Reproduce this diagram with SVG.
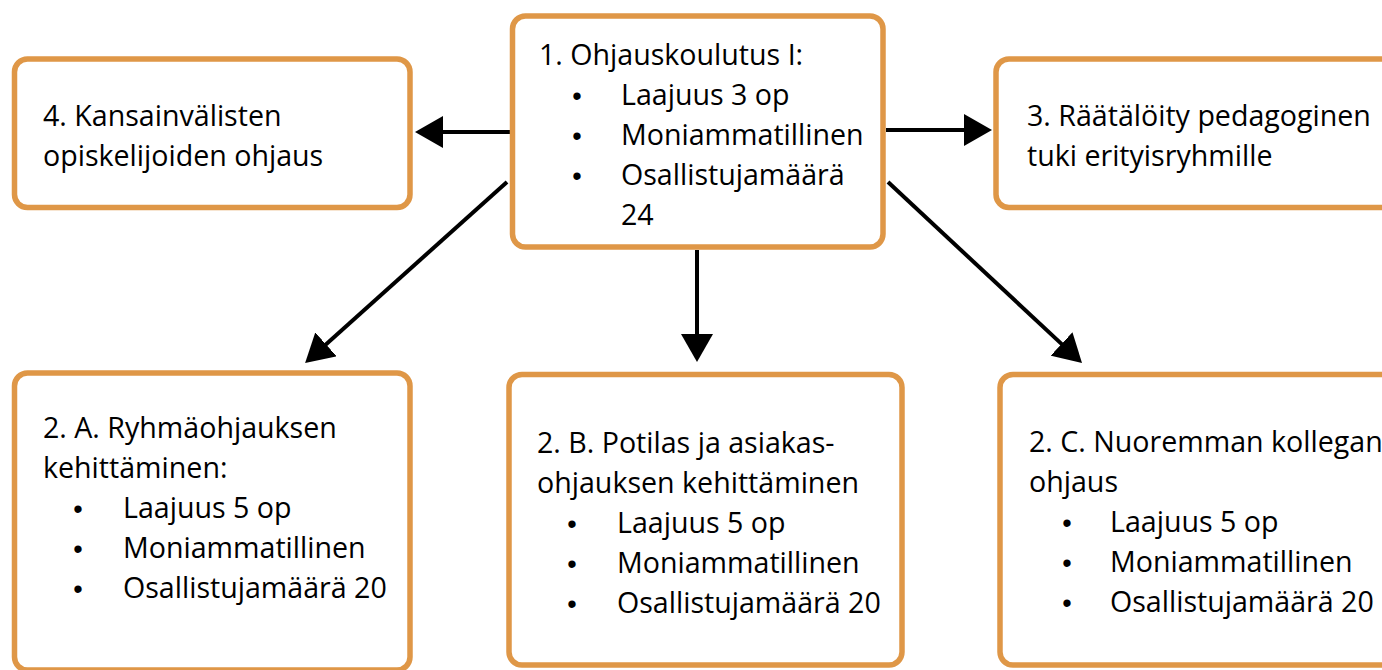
<svg xmlns="http://www.w3.org/2000/svg" width="1382" height="670" viewBox="0 0 1382 670">
  <style>
    .box { fill: #ffffff; stroke: #DF9747; stroke-width: 5.5; }
    .t { font-family: "Open Sans", "Noto Sans", sans-serif; font-size: 28.6px; fill: #000000; }
    .b { font-family: "Liberation Sans", Arial, sans-serif; font-size: 27px; fill: #000000; text-anchor: middle; }
    .link { stroke: #000000; stroke-width: 4; fill: none; marker-end: url(#head); }
  </style>
  <defs>
    <marker id="head" viewBox="0 0 28 32" refX="8" refY="16" markerWidth="28" markerHeight="32" markerUnits="userSpaceOnUse" orient="auto">
      <path d="M0,0 L28,16 L0,32 Z" fill="#000000"/>
    </marker>
  </defs>
  <rect width="1382" height="670" fill="#ffffff"/>

  <!-- connectors -->
  <g id="connectors">
    <line class="link" x1="512" y1="132" x2="435" y2="132"/>
    <line class="link" x1="886" y1="130" x2="972" y2="130"/>
    <line class="link" x1="697" y1="250" x2="697" y2="342"/>
    <line class="link" x1="507" y1="182" x2="320" y2="349.7"/>
    <line class="link" x1="888" y1="182" x2="1067.4" y2="349.4"/>
  </g>

  <!-- 1. central course -->
  <g id="node-1">
    <rect class="box" x="512.5" y="16" width="370.5" height="231" rx="13"/>
    <text class="t" x="539" y="65">1. Ohjauskoulutus I:</text>
    <text class="b" x="577" y="105">•</text>
    <text class="t" x="621" y="105">Laajuus 3 op</text>
    <text class="b" x="577" y="145">•</text>
    <text class="t" x="621" y="145">Moniammatillinen</text>
    <text class="b" x="577" y="185">•</text>
    <text class="t" x="621" y="185">Osallistujamäärä</text>
    <text class="t" x="621" y="225">24</text>
  </g>

  <!-- 4. international students -->
  <g id="node-4">
    <rect class="box" x="14.5" y="59" width="395.5" height="148.5" rx="13"/>
    <text class="t" x="43" y="126">4. Kansainvälisten</text>
    <text class="t" x="43" y="166">opiskelijoiden ohjaus</text>
  </g>

  <!-- 3. tailored pedagogical support -->
  <g id="node-3">
    <rect class="box" x="996" y="59" width="420" height="148.5" rx="13"/>
    <text class="t" x="1027" y="126">3. Räätälöity pedagoginen</text>
    <text class="t" x="1027" y="166">tuki erityisryhmille</text>
  </g>

  <!-- 2. A -->
  <g id="node-2a">
    <rect class="box" x="14.5" y="373" width="395.5" height="297" rx="13"/>
    <text class="t" x="43" y="438">2. A. Ryhmäohjauksen</text>
    <text class="t" x="43" y="478">kehittäminen:</text>
    <text class="b" x="78" y="518">•</text>
    <text class="t" x="123" y="518">Laajuus 5 op</text>
    <text class="b" x="78" y="558">•</text>
    <text class="t" x="123" y="558">Moniammatillinen</text>
    <text class="b" x="78" y="598">•</text>
    <text class="t" x="123" y="598">Osallistujamäärä 20</text>
  </g>

  <!-- 2. B -->
  <g id="node-2b">
    <rect class="box" x="509" y="374.5" width="393" height="290.5" rx="13"/>
    <text class="t" x="537" y="453">2. B. Potilas ja asiakas-</text>
    <text class="t" x="537" y="493">ohjauksen kehittäminen</text>
    <text class="b" x="572" y="533">•</text>
    <text class="t" x="617" y="533">Laajuus 5 op</text>
    <text class="b" x="572" y="573">•</text>
    <text class="t" x="617" y="573">Moniammatillinen</text>
    <text class="b" x="572" y="613">•</text>
    <text class="t" x="617" y="613">Osallistujamäärä 20</text>
  </g>

  <!-- 2. C -->
  <g id="node-2c">
    <rect class="box" x="1000" y="374.5" width="420" height="290.5" rx="13"/>
    <text class="t" x="1029" y="452">2. C. Nuoremman kollegan</text>
    <text class="t" x="1029" y="492">ohjaus</text>
    <text class="b" x="1067" y="532">•</text>
    <text class="t" x="1110" y="532">Laajuus 5 op</text>
    <text class="b" x="1067" y="572">•</text>
    <text class="t" x="1110" y="572">Moniammatillinen</text>
    <text class="b" x="1067" y="612">•</text>
    <text class="t" x="1110" y="612">Osallistujamäärä 20</text>
  </g>
</svg>
